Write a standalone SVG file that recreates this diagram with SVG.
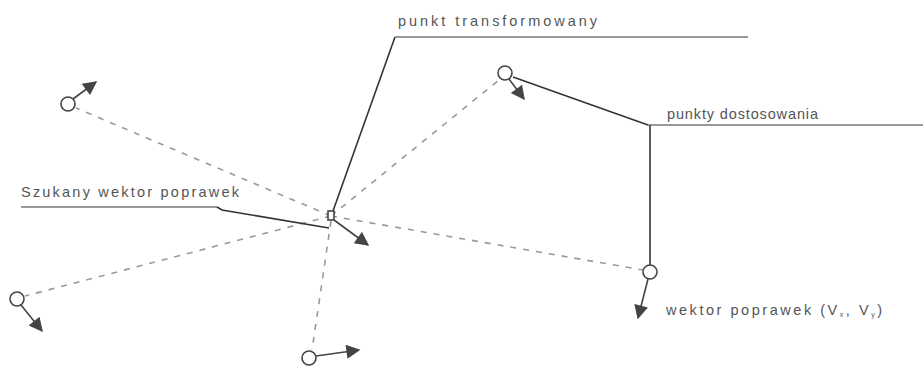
<svg xmlns="http://www.w3.org/2000/svg" width="923" height="369" viewBox="0 0 923 369">
<defs>
<style>
.lbl{font-family:"Liberation Sans",Arial,sans-serif;font-size:14.5px;fill:#555}
.dash{stroke:#999;stroke-width:1.6;stroke-dasharray:6 7;fill:none}
.lead{stroke:#333;stroke-width:1.6;fill:none}
.hl{stroke:#999;stroke-width:2;fill:none}
.pt{fill:#fff;stroke:#444;stroke-width:1.6}
.vec{stroke:#444;stroke-width:1.6;fill:none}
.head{fill:#444}
</style>
<marker id="ah" viewBox="0 0 10 10" refX="9" refY="5" markerWidth="16" markerHeight="14" markerUnits="userSpaceOnUse" orient="auto">
<path d="M0,0 L10,5 L0,10 Z" class="head"/>
</marker>
</defs>
<rect width="923" height="369" fill="#fff"/>
<g id="connectors">
<line class="dash" x1="331" y1="216" x2="76" y2="108"/>
<line class="dash" x1="331" y1="216" x2="499" y2="80"/>
<line class="dash" x1="331" y1="216" x2="643" y2="270"/>
<line class="dash" x1="331" y1="216" x2="25" y2="296"/>
<line class="dash" x1="331" y1="221" x2="312" y2="350"/>
<polyline class="lead" points="333,211 395,37"/>
<line class="hl" x1="395" y1="37" x2="748" y2="37"/>
<polyline class="lead" points="513,77 648,125"/>
<line class="hl" x1="648" y1="125" x2="923" y2="125"/>
<line class="lead" x1="650" y1="125" x2="650" y2="265"/>
<line class="hl" x1="21" y1="207" x2="217" y2="207"/>
<polyline class="lead" points="217,207 222,210 329,228"/>
</g>
<g id="node-center">
<rect class="pt" x="328" y="211" width="6" height="9"/>
<line class="vec" x1="334" y1="220" x2="368" y2="245" marker-end="url(#ah)"/>
</g>
<g id="node-a">
<circle class="pt" cx="68" cy="104" r="7"/>
<line class="vec" x1="73" y1="99" x2="96" y2="82" marker-end="url(#ah)"/>
</g>
<g id="node-b">
<circle class="pt" cx="505" cy="73" r="7"/>
<line class="vec" x1="509" y1="79" x2="524" y2="99" marker-end="url(#ah)"/>
</g>
<g id="node-c">
<circle class="pt" cx="650" cy="272" r="7"/>
<line class="vec" x1="648" y1="279" x2="638" y2="318" marker-end="url(#ah)"/>
</g>
<g id="node-d">
<circle class="pt" cx="17" cy="299" r="7"/>
<line class="vec" x1="21" y1="305" x2="42" y2="331" marker-end="url(#ah)"/>
</g>
<g id="node-e">
<circle class="pt" cx="309" cy="358" r="7"/>
<line class="vec" x1="316" y1="356" x2="359" y2="350" marker-end="url(#ah)"/>
</g>
<g id="labels">
<text class="lbl" x="398" y="26" textLength="199" lengthAdjust="spacing">punkt transformowany</text>
<text class="lbl" x="667" y="119" textLength="151" lengthAdjust="spacing">punkty dostosowania</text>
<text class="lbl" x="21" y="197" textLength="218" lengthAdjust="spacing">Szukany wektor poprawek</text>
<text class="lbl" x="666" y="315" textLength="216" lengthAdjust="spacing">wektor poprawek  (V<tspan font-size="7" dy="2">x</tspan><tspan dy="-2">, V</tspan><tspan font-size="7" dy="2">y</tspan><tspan dy="-2">)</tspan></text>
</g>
</svg>
